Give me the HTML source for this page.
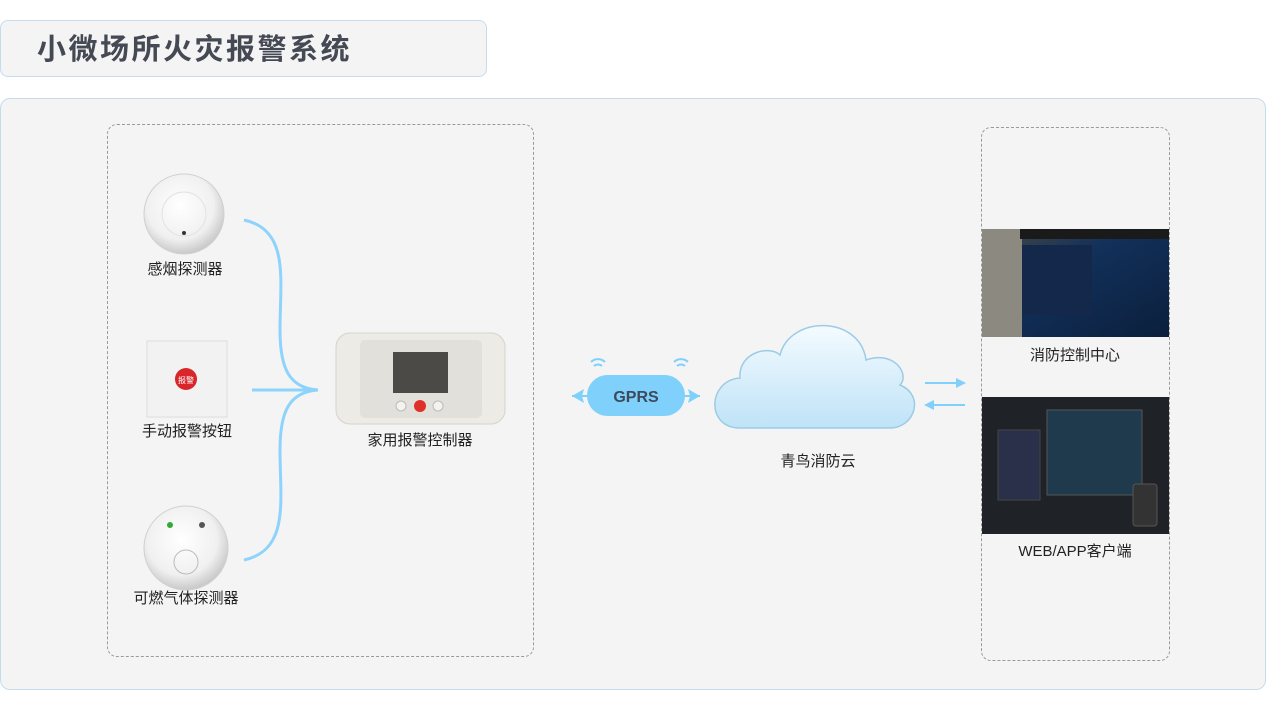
<!DOCTYPE html>
<html><head><meta charset="utf-8"><style>
body{margin:0;width:1268px;height:714px;background:#fff;position:relative;overflow:hidden;font-family:"Liberation Sans","Noto Sans CJK SC",sans-serif;}
.a{position:absolute}
.lbl{position:absolute;font-size:15px;color:#222;text-align:center;width:200px;margin-left:-100px;line-height:18px}
</style></head><body>
<div class="a" style="left:0;top:20px;width:487px;height:57px;background:#f4f4f5;border:1px solid #c5dcef;border-radius:8px;box-sizing:border-box"></div>
<div class="a" style="left:37px;top:31px;font-size:29px;font-weight:bold;color:#444953;line-height:38px;letter-spacing:2.5px">小微场所火灾报警系统</div>
<div class="a" style="left:0;top:98px;width:1266px;height:592px;background:#f4f4f4;border:1px solid #c5dcef;border-radius:10px;box-sizing:border-box"></div>
<div class="a" style="left:107px;top:124px;width:427px;height:533px;border:1px dashed #9a9a9a;border-radius:10px;box-sizing:border-box"></div>
<div class="a" style="left:981px;top:127px;width:189px;height:534px;border:1px dashed #9a9a9a;border-radius:10px;box-sizing:border-box"></div>
<svg class="a" style="left:0;top:0" width="1268" height="714">
<defs>
<radialGradient id="w" cx="45%" cy="40%" r="60%"><stop offset="0" stop-color="#fff"/><stop offset="0.7" stop-color="#f0f0f0"/><stop offset="1" stop-color="#c9c9c9"/></radialGradient>
<linearGradient id="cl" x1="0" y1="0" x2="0" y2="1"><stop offset="0" stop-color="#f4fbff"/><stop offset="1" stop-color="#bfe3f7"/></linearGradient>
<linearGradient id="s1" x1="0" y1="0" x2="1" y2="1"><stop offset="0" stop-color="#4a4a40"/><stop offset="0.4" stop-color="#12305a"/><stop offset="1" stop-color="#0b1f3c"/></linearGradient>
</defs>
<circle cx="184" cy="214" r="40" fill="url(#w)" stroke="#d0d0d0"/>
<circle cx="184" cy="214" r="22" fill="none" stroke="#e2e2e2"/>
<circle cx="184" cy="233" r="2" fill="#333"/>
<rect x="147" y="341" width="80" height="76" fill="#f2f2f2" stroke="#ddd"/>
<circle cx="186" cy="379" r="11" fill="#d8262a"/>
<text x="186" y="383" font-size="8" fill="#fff" text-anchor="middle">报警</text>
<circle cx="186" cy="548" r="42" fill="url(#w)" stroke="#d0d0d0"/>
<circle cx="186" cy="562" r="12" fill="none" stroke="#bbb"/>
<circle cx="170" cy="525" r="3" fill="#3a3"/><circle cx="202" cy="525" r="3" fill="#555"/>
<path d="M244 220 C290 230 280 280 280 330 C280 370 290 388 318 390 M244 560 C290 550 280 500 280 450 C280 410 290 392 318 390 M252 390 L318 390" fill="none" stroke="#8dd3fb" stroke-width="3"/>
<rect x="336" y="333" width="169" height="91" rx="14" fill="#ecebe6" stroke="#d4d3cc"/>
<rect x="360" y="340" width="122" height="78" rx="5" fill="#e1e0da"/>
<rect x="393" y="352" width="55" height="41" fill="#4b4a47"/>
<circle cx="420" cy="406" r="6" fill="#e0302a"/>
<circle cx="401" cy="406" r="5" fill="#f3f3f0" stroke="#bbb"/><circle cx="438" cy="406" r="5" fill="#f3f3f0" stroke="#bbb"/>
<path d="M572 396 L700 396" stroke="#7fd0fb" stroke-width="2"/>
<path d="M572 396 L584 389 L582 396 L584 403Z M700 396 L688 389 L690 396 L688 403Z" fill="#7fd0fb"/>
<rect x="587" y="375" width="98" height="41" rx="20.5" fill="#7fd0fb"/>
<path d="M594 366 a6 6 0 0 1 8 0 M591 362 a10 10 0 0 1 14 0 M677 366 a6 6 0 0 1 8 0 M674 362 a10 10 0 0 1 14 0" stroke="#7fd0fb" stroke-width="2" fill="none"/>
<text x="636" y="402" font-size="16" font-weight="bold" fill="#3b4a5c" text-anchor="middle" font-family="Liberation Sans">GPRS</text>
<path d="M740 428 C705 428 708 380 740 378 C738 352 770 345 780 355 C790 315 860 315 866 360 C895 350 910 375 900 385 C925 395 915 428 890 428 Z" fill="url(#cl)" stroke="#9ccbe6" stroke-width="1.5"/>
<path d="M925 383 L962 383 M928 405 L965 405" stroke="#7fd0fb" stroke-width="2"/>
<path d="M966 383 L956 378 L956 388Z M924 405 L934 400 L934 410Z" fill="#7fd0fb"/>
<rect x="982" y="229" width="187" height="108" fill="url(#s1)"/>
<rect x="982" y="229" width="40" height="108" fill="#8c8a80"/>
<rect x="1020" y="229" width="149" height="10" fill="#1a1a1a"/>
<rect x="1022" y="245" width="70" height="70" fill="#13284a"/>
<rect x="982" y="397" width="187" height="137" fill="#1f2328"/>
<rect x="998" y="430" width="42" height="70" fill="#2a2f4a" stroke="#444"/>
<rect x="1047" y="410" width="95" height="85" fill="#1e3a4c" stroke="#555"/>
<rect x="1133" y="484" width="24" height="42" rx="3" fill="#333" stroke="#555"/>
</svg>
<div class="lbl" style="left:185px;top:261px">感烟探测器</div>
<div class="lbl" style="left:187px;top:423px">手动报警按钮</div>
<div class="lbl" style="left:186px;top:590px">可燃气体探测器</div>
<div class="lbl" style="left:420px;top:432px">家用报警控制器</div>
<div class="lbl" style="left:818px;top:453px">青鸟消防云</div>
<div class="lbl" style="left:1075px;top:347px">消防控制中心</div>
<div class="lbl" style="left:1075px;top:543px">WEB/APP客户端</div>
</body></html>
